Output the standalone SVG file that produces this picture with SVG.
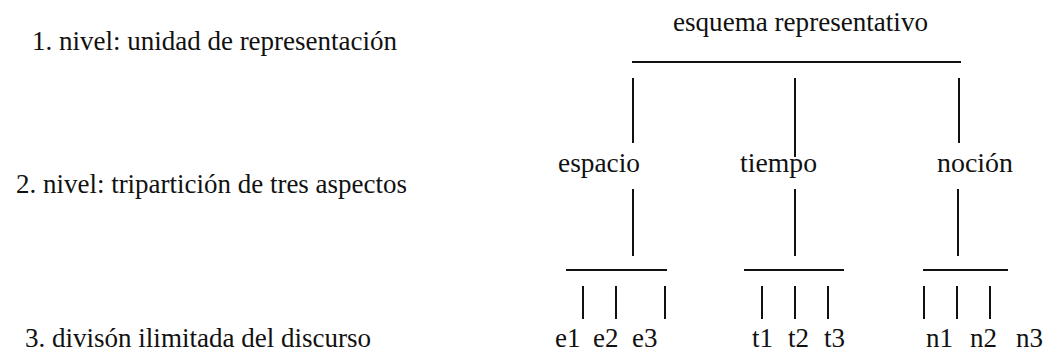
<svg xmlns="http://www.w3.org/2000/svg" width="1052" height="352" viewBox="0 0 1052 352" font-family="Liberation Serif">
<style>
  text { font-family: "Liberation Serif", "Times New Roman", serif; fill: #111; }
  .lbl { font-size: 27px; }
  .nd { font-size: 28px; }
  .leaf { font-size: 27px; }
  .cn line { stroke: #111; stroke-width: 2; fill: none; }
</style>
<rect width="1052" height="352" fill="#fff"/>
<g id="level1"><text class="lbl" x="32" y="50" textLength="365" lengthAdjust="spacingAndGlyphs">1. nivel: unidad de representación</text></g>
<g id="level2"><text class="lbl" x="16" y="193" textLength="391" lengthAdjust="spacingAndGlyphs">2. nivel: tripartición de tres aspectos</text></g>
<g id="level3"><text class="lbl" x="25" y="347" textLength="346" lengthAdjust="spacingAndGlyphs">3. divisón ilimitada del discurso</text></g>
<g id="esquema"><text class="nd" x="673" y="31" textLength="255" lengthAdjust="spacingAndGlyphs">esquema representativo</text></g>
<g id="espacio"><text class="nd" x="558" y="172" textLength="82" lengthAdjust="spacingAndGlyphs">espacio</text></g>
<g id="tiempo"><text class="nd" x="740" y="172" textLength="77" lengthAdjust="spacingAndGlyphs">tiempo</text></g>
<g id="nocion"><text class="nd" x="937" y="172" textLength="76" lengthAdjust="spacingAndGlyphs">noción</text></g>
<g id="e1"><text class="leaf" x="555" y="347">e1</text></g>
<g id="e2"><text class="leaf" x="593" y="347">e2</text></g>
<g id="e3"><text class="leaf" x="632" y="347">e3</text></g>
<g id="t1"><text class="leaf" x="752" y="347">t1</text></g>
<g id="t2"><text class="leaf" x="788" y="347">t2</text></g>
<g id="t3"><text class="leaf" x="824" y="347">t3</text></g>
<g id="n1"><text class="leaf" x="926" y="347">n1</text></g>
<g id="n2"><text class="leaf" x="970" y="347">n2</text></g>
<g id="n3"><text class="leaf" x="1016" y="347">n3</text></g>
<g id="connectors" class="cn">
  <line x1="632" y1="62" x2="961" y2="62"/>
  <line x1="633" y1="78" x2="633" y2="143"/>
  <line x1="795" y1="78" x2="795" y2="157"/>
  <line x1="959" y1="78" x2="959" y2="143"/>
  <line x1="633" y1="189" x2="633" y2="256"/>
  <line x1="795" y1="189" x2="795" y2="256"/>
  <line x1="958" y1="189" x2="958" y2="256"/>
  <line x1="566" y1="270" x2="667" y2="270"/>
  <line x1="744" y1="270" x2="844" y2="270"/>
  <line x1="923" y1="270" x2="1008" y2="270"/>
  <line x1="583" y1="286" x2="583" y2="319"/>
  <line x1="616" y1="286" x2="616" y2="319"/>
  <line x1="665" y1="286" x2="665" y2="319"/>
  <line x1="762" y1="286" x2="762" y2="319"/>
  <line x1="795" y1="286" x2="795" y2="319"/>
  <line x1="828" y1="286" x2="828" y2="319"/>
  <line x1="924" y1="286" x2="924" y2="319"/>
  <line x1="957" y1="286" x2="957" y2="319"/>
  <line x1="990" y1="286" x2="990" y2="319"/>
</g>
</svg>
